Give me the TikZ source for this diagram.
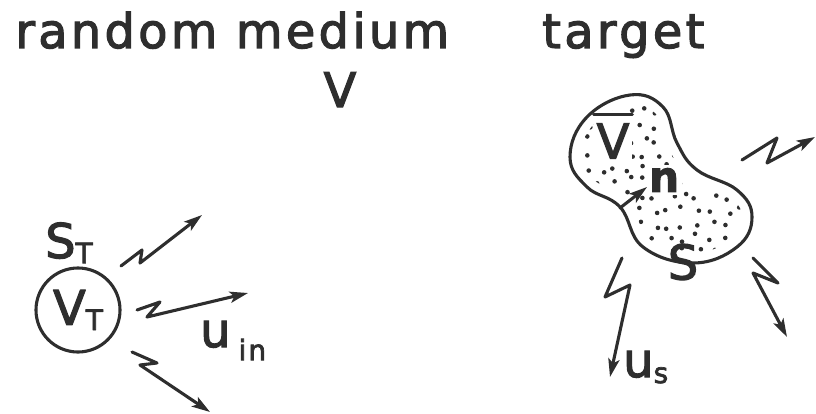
\documentclass[tikz,border=0pt]{standalone}
\usepackage{fontspec}
\setmainfont{DejaVu Sans}[LetterSpace=7,FakeBold=2.5]
\usetikzlibrary{arrows.meta}
\newcommand{\lowidx}[2][0.13cm]{\raisebox{-#1}{\fontsize{20}{20}\selectfont #2}}
\newcommand{\blobshape}{plot[smooth cycle,tension=0.7] coordinates {(630,95) (663,107)
  (677,143) (697,170) (737,190) (752,217) (737,247) (693,263) (643,247) (620,207)
  (587,187) (570,157) (587,117)}}
\begin{document}
\begin{tikzpicture}[x=0.025cm,y=-0.025cm,>={Stealth[length=13pt,width=8pt,inset=3pt]},
	ink/.style={draw=black!82,line width=2.2pt,line cap=round,line join=round},
	ray/.style={ink,->},
	word/.style={text=black!82,font=\fontsize{34}{40}\selectfont,inner sep=0pt}]
	\useasboundingbox (0,0) rectangle (816,414);
	% headings
	\node[word,anchor=base west] (medium) at (15,48) {random medium};
	\node[word,anchor=base] (vol) at (340,107) {V};
	\node[word,anchor=base west] (target) at (542,48) {target};
	% small volume in the medium
	\node[word,circle,ink,minimum size=2.1cm] (vt) at (78,310) {V\lowidx{T}};
	\node[word,anchor=base west] (st) at (45,258) {S\lowidx{T}};
	\node[word,anchor=base west] (uin) at (200,347) {u\,\lowidx[0.33cm]{in}};
	\coordinate (r1s) at (121,266); \coordinate (r1e) at (202,215);
	\coordinate (r2s) at (137,310); \coordinate (r2e) at (248,293);
	\coordinate (r3s) at (132,352); \coordinate (r3e) at (210,412);
	\draw[ray] (r1s) -- (142,250) -- (140,263) -- (r1e);
	\draw[ray] (r2s) -- (160,302) -- (147,317) -- (r2e);
	\draw[ray] (r3s) -- (157,363) -- (140,365) -- (r3e);
	% target body
	\begin{scope}
		\clip \blobshape;
		\pgfmathsetseed{11}
		\foreach \i in {572,586,...,752}
			\foreach \j in {98,112,...,264}
				\fill[black!82] ({\i+5*rand},{\j+5*rand}) circle (2.3);
	\end{scope}
	\draw[white,line width=14] \blobshape;
	\draw[ink] \blobshape;
	\node[word,fill=white,inner sep=2pt] (vbar) at (613,141) {V};
	\draw[ink] ([yshift=4pt]vbar.north west) -- ([yshift=4pt]vbar.north east);
	\node[word,fill=white,inner sep=2pt,font=\fontsize{30}{30}\selectfont\bfseries] (nvec) at (664,180) {n};
	\coordinate (nfoot) at (620,208); \coordinate (ntip) at (647,187);
	\draw[ray] (nfoot) -- (ntip);
	\node[word] (surf) at (683,262) {S};
	\node[word,anchor=base west] (us) at (623,377) {u\lowidx[0.15cm]{s}};
	\coordinate (r4s) at (742,160); \coordinate (r4e) at (815,137);
	\coordinate (r5s) at (753,258); \coordinate (r5e) at (787,337);
	\coordinate (r6s) at (622,258); \coordinate (r6e) at (610,377);
	\draw[ray] (r4s) -- (777,138) -- (767,163) -- (r4e);
	\draw[ray] (r5s) -- (778,283) -- (753,273) -- (r5e);
	\draw[ray] (r6s) -- (605,297) -- (630,285) -- (r6e);
\end{tikzpicture}
\end{document}
